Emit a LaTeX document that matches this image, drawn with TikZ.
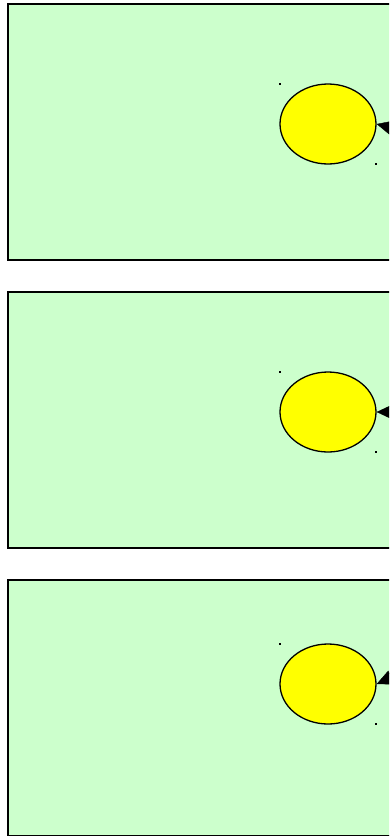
\documentclass[tikz,border=0pt]{standalone}
\usepackage{xcolor}
\usepackage{tikz}
\usetikzlibrary{arrows.meta,shapes.geometric}
\definecolor{panelgreen}{HTML}{CCFFCC}
\definecolor{nodeyellow}{HTML}{FFFF00}

\begin{document}
\begin{tikzpicture}[x=1pt,y=-1pt]
  \useasboundingbox (0,0) rectangle (389,836);
  \clip (0,0) rectangle (389,836);
  \foreach \top/\cy/\dy [count=\i] in {4/124/7, 292/412/0, 580/684/-12}{
    \draw[line width=1.6pt,fill=panelgreen] (8,\top) rectangle (400,\top+256);
    \node[ellipse,draw,line width=1.3pt,fill=nodeyellow,minimum width=96pt,minimum height=80pt,inner sep=0pt] (blob\i) at (328,\cy){};
    \fill (279,\cy-41) rectangle ++(2,1.5);
    \fill (375,\cy+39) rectangle ++(2,1.5);
    \coordinate (feed\i) at (404,\cy+\dy);
    \draw[-{Triangle[length=16pt,width=15pt]}] (feed\i)--(blob\i.east);
  }
\end{tikzpicture}
\end{document}
